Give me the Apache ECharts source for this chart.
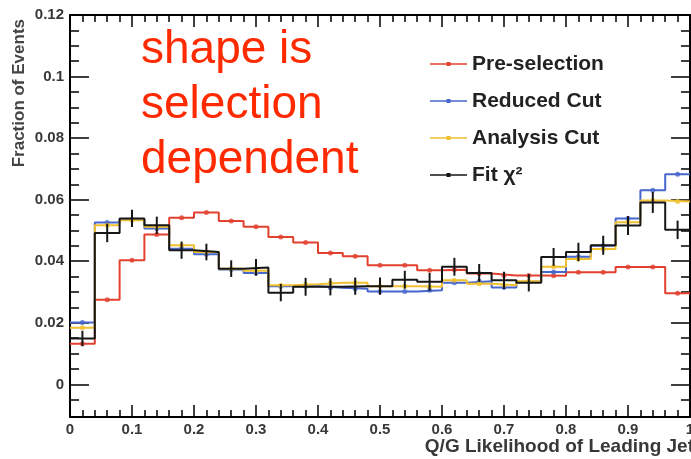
<!DOCTYPE html>
<html>
<head>
<meta charset="utf-8">
<script src="https://cdn.jsdelivr.net/npm/echarts@6/dist/echarts.min.js"></script>
<style>
  html, body { margin: 0; padding: 0; background: #fff; }
  #chart { width: 691px; height: 459px; }
</style>
</head>
<body>
<div id="chart"></div>
<script>
// Histogram binning: 25 bins of width 0.04 on [0, 1]
const binWidth = 0.04;
const nBins = 25;

// Fraction of events per bin
const preSelection = [0.0132, 0.0275, 0.0403, 0.0487, 0.0541, 0.0558, 0.0531, 0.0512, 0.0479, 0.0461,
                      0.0427, 0.0416, 0.0387, 0.0387, 0.0371, 0.0372, 0.0360, 0.0354, 0.0354, 0.0353,
                      0.0364, 0.0364, 0.0381, 0.0381, 0.0296];
const reducedCut   = [0.0201, 0.0526, 0.0536, 0.0506, 0.0441, 0.0423, 0.0373, 0.0362, 0.0319, 0.0319,
                      0.0314, 0.0311, 0.0302, 0.0302, 0.0306, 0.0330, 0.0335, 0.0315, 0.0333, 0.0365,
                      0.0415, 0.0450, 0.0539, 0.0631, 0.0683];
const analysisCut  = [0.0184, 0.0517, 0.0533, 0.0512, 0.0452, 0.0430, 0.0376, 0.0369, 0.0322, 0.0325,
                      0.0330, 0.0330, 0.0319, 0.0319, 0.0317, 0.0338, 0.0327, 0.0322, 0.0335, 0.0382,
                      0.0407, 0.0440, 0.0527, 0.0597, 0.0594];
const fitChi2      = [0.0149, 0.0492, 0.0539, 0.0517, 0.0436, 0.0430, 0.0376, 0.0380, 0.0298, 0.0317,
                      0.0317, 0.0319, 0.0319, 0.0340, 0.0333, 0.0382, 0.0362, 0.0338, 0.0330, 0.0414,
                      0.0430, 0.0452, 0.0516, 0.0591, 0.0502];
const fitChi2Err   = [0.0025, 0.0030, 0.0028, 0.0028, 0.0028, 0.0027, 0.0027, 0.0027, 0.0028, 0.0029,
                      0.0028, 0.0028, 0.0028, 0.0029, 0.0029, 0.0029, 0.0029, 0.0028, 0.0028, 0.0029,
                      0.0030, 0.0031, 0.0031, 0.0034, 0.0030];

// Axis ticks
const yMajorTicks = [0, 0.02, 0.04, 0.06, 0.08, 0.1, 0.12];
const yMinorTicks = [];
for (let k = -1; k < 24; k++) {
  if (k % 4 !== 0) yMinorTicks.push(Number((k * 0.005).toFixed(3)));
}

const seriesNames = ['Pre-selection', 'Reduced Cut', 'Analysis Cut', 'Fit \u03C7\u00B2'];
const seriesColors = ['#e2412f', '#4767cc', '#f0c030', '#161616'];
const seriesValues = [preSelection, reducedCut, analysisCut, fitChi2];

const FONT = '"Liberation Sans", Arial, Helvetica, sans-serif';
const LABEL_COLOR = '#383838';

// Step outline: one point at each bin's lower edge, plus the closing upper edge
function stepPoints(values) {
  const pts = values.map((v, i) => [i * binWidth, v]);
  pts.push([nBins * binWidth, values[values.length - 1]]);
  return pts;
}
function centerPoints(values) {
  return values.map((v, i) => [(i + 0.5) * binWidth, v]);
}

const series = [];
seriesValues.forEach((vals, s) => {
  series.push({
    name: seriesNames[s],
    type: 'line',
    step: 'end',
    data: stepPoints(vals),
    symbol: 'none',
    lineStyle: { color: seriesColors[s], width: 2 },
    itemStyle: { color: seriesColors[s] },
    z: 2 + s
  });
});
// Bin-centre markers for the three selections
[0, 1, 2].forEach(s => {
  series.push({
    name: seriesNames[s] + ' markers',
    type: 'scatter',
    data: centerPoints(seriesValues[s]),
    symbol: 'circle',
    symbolSize: 5,
    itemStyle: { color: seriesColors[s] },
    silent: true,
    z: 2 + s
  });
});
// Error bars on the fit
series.push({
  name: 'Fit error bars',
  type: 'custom',
  data: fitChi2.map((v, i) => [(i + 0.5) * binWidth, v, fitChi2Err[i]]),
  renderItem: function (params, api) {
    const x = api.value(0), y = api.value(1), e = api.value(2);
    const lo = api.coord([x, y - e]);
    const hi = api.coord([x, y + e]);
    return {
      type: 'line',
      shape: { x1: lo[0], y1: lo[1], x2: hi[0], y2: hi[1] },
      style: { stroke: seriesColors[3], lineWidth: 2 }
    };
  },
  silent: true,
  z: 6
});

const frameLine = { show: true, onZero: false, lineStyle: { color: '#000', width: 2 } };
const tickStyle = { color: '#000', width: 1.5 };
const Y_MIN = -0.0106, Y_MAX = 0.12;

function yAxisPair(position, withLabels) {
  return [
    {
      type: 'value', position: position, min: Y_MIN, max: Y_MAX,
      axisLine: frameLine,
      axisTick: { show: true, inside: true, length: 19, lineStyle: tickStyle, customValues: yMajorTicks },
      axisLabel: withLabels ? {
        show: true, customValues: yMajorTicks, margin: 6,
        fontFamily: FONT, fontSize: 15, fontWeight: 'bold', color: LABEL_COLOR
      } : { show: false },
      splitLine: { show: false }
    },
    {
      type: 'value', position: position, min: Y_MIN, max: Y_MAX,
      axisLine: { show: false, onZero: false },
      axisTick: { show: true, inside: true, length: 9, lineStyle: tickStyle, customValues: yMinorTicks },
      axisLabel: { show: false },
      splitLine: { show: false }
    }
  ];
}

function xAxisDef(position, withLabels) {
  return {
    type: 'value', position: position, min: 0, max: 1, interval: 0.1,
    axisLine: frameLine,
    axisTick: { show: true, inside: true, length: 12, lineStyle: tickStyle },
    minorTick: { show: true, splitNumber: 5, length: 7, lineStyle: tickStyle },
    axisLabel: withLabels ? {
      show: true, margin: 5, fontFamily: FONT, fontSize: 15, fontWeight: 'bold', color: LABEL_COLOR
    } : { show: false },
    splitLine: { show: false },
    minorSplitLine: { show: false }
  };
}

const legendIcon = 'path://M0,3.2 L37,3.2 L37,4.8 L0,4.8 Z M16.5,2 L20.5,2 L20.5,6 L16.5,6 Z';

const option = {
  animation: false,
  backgroundColor: '#ffffff',
  grid: { left: 70, right: 1, top: 15, bottom: 42, containLabel: false, outerBoundsMode: 'none' },
  xAxis: [xAxisDef('bottom', true), xAxisDef('top', false)],
  yAxis: [...yAxisPair('left', true), ...yAxisPair('right', false)],
  legend: {
    orient: 'vertical',
    left: 425,
    top: 47,
    itemWidth: 37,
    itemHeight: 8,
    itemGap: 13,
    data: seriesNames.map(n => ({ name: n, icon: legendIcon })),
    textStyle: { fontFamily: FONT, fontSize: 21, fontWeight: 'bold', color: '#222', lineHeight: 24 }
  },
  graphic: [
    {
      type: 'text',
      left: 141,
      top: 23,
      style: {
        text: 'shape is\nselection\ndependent',
        font: '46px ' + FONT,
        fill: '#ff2a00',
        lineHeight: 55
      },
      z: 10
    },
    {
      // vertical axis title
      type: 'text',
      x: 19,
      y: 19,
      rotation: Math.PI / 2,
      style: {
        text: 'Fraction of Events',
        font: 'bold 17px ' + FONT,
        fill: '#444',
        align: 'right',
        verticalAlign: 'middle'
      }
    },
    {
      // horizontal axis title, right-aligned at the frame corner
      type: 'text',
      x: 694,
      y: 447,
      style: {
        text: 'Q/G Likelihood of Leading Jet',
        font: 'bold 19px ' + FONT,
        fill: LABEL_COLOR,
        align: 'right',
        verticalAlign: 'middle'
      }
    }
  ],
  series: series
};

const chart = echarts.init(document.getElementById('chart'), null, { renderer: 'canvas' });
chart.setOption(option);
</script>
</body>
</html>
